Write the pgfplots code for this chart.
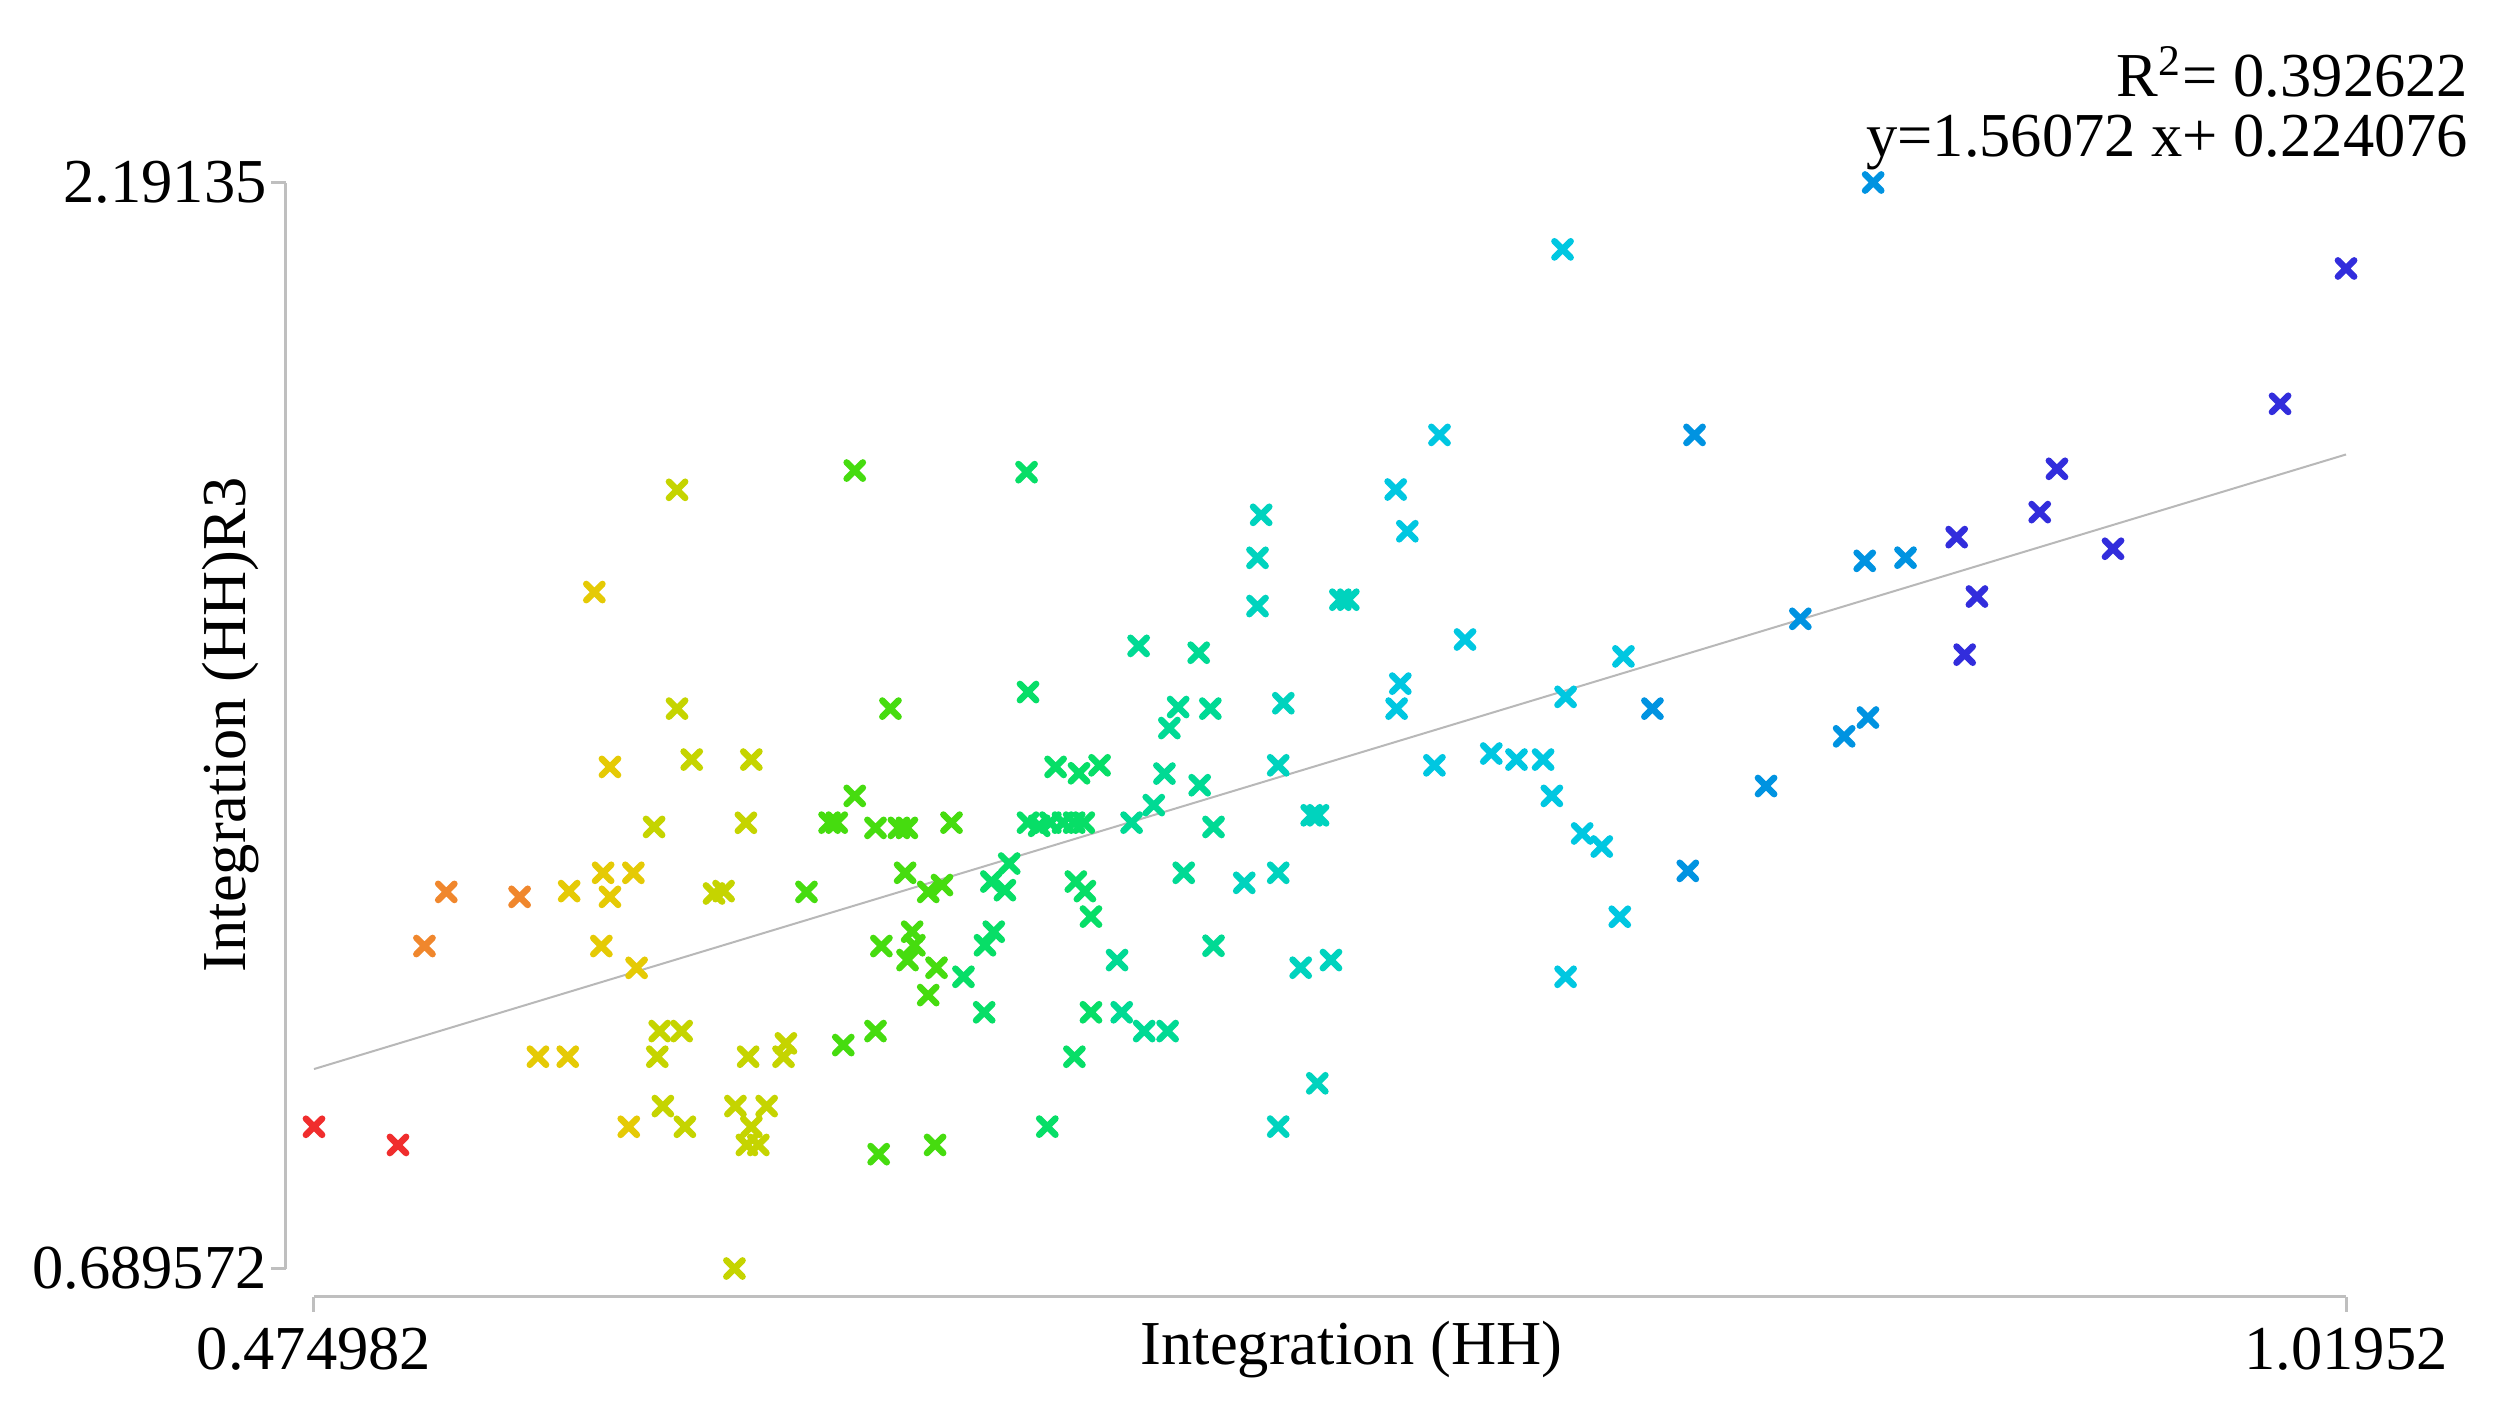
\documentclass[border=0pt]{standalone}
\usepackage{fontspec}
\setmainfont{Liberation Serif}
\usepackage{pgfplots}
\pgfplotsset{compat=1.18}
\usepackage{pgfplotstable}

% x, y, colour index (hue-like, 0 = red ... 240 = blue)
\pgfplotstableread{
x y h
0.474982 0.88556 0
0.49749 0.86046 0
0.50458 1.13549 30
0.51043 1.21036 30
0.53008 1.20353 30
0.53499 0.98245 57
0.54298 0.98245 57
0.54336 1.21146 57
0.55011 1.62500 57
0.55199 1.13549 57
0.55246 1.23678 57
0.55429 1.38322 57
0.55429 1.20353 57
0.55933 0.88556 57
0.56057 1.23678 57
0.56143 1.10532 57
0.56612 1.30020 72
0.56698 0.98245 72
0.56762 1.01790 72
0.56847 0.91419 72
0.57227 1.76636 72
0.57227 1.46381 72
0.57351 1.01790 72
0.57437 0.88556 72
0.57620 1.39335 72
0.58218 1.20816 72
0.58474 1.21146 72
0.58791 0.91419 72
0.58765 0.689572 72
0.59072 1.30593 72
0.59132 0.98245 72
0.59218 0.88556 72
0.59218 1.39335 72
0.59098 0.86046 72
0.59406 0.86046 72
0.59628 0.91419 72
0.60080 0.98245 72
0.60144 1.00095 72
0.60695 1.21036 112
0.61315 1.30615 112
0.61507 1.30615 112
0.61682 0.99853 112
0.61989 1.34314 112
0.61989 1.79301 112
0.62545 1.29888 112
0.62545 1.01790 112
0.62630 0.84769 112
0.62703 1.13549 112
0.62946 1.46381 112
0.63172 1.29888 112
0.63339 1.23678 112
0.63386 1.29888 112
0.63403 1.11611 112
0.63527 1.15531 112
0.63587 1.13659 112
0.63958 1.06767 112
0.63958 1.21036 112
0.64142 0.86046 112
0.64180 1.10554 112
0.64326 1.21983 112
0.64582 1.30615 112
0.64902 1.09299 145
0.65457 1.04389 145
0.65479 1.13659 145
0.65650 1.22467 145
0.65714 1.15531 145
0.66013 1.21278 145
0.66128 1.24955 145
0.66593 1.79081 145
0.66632 1.48671 145
0.66632 1.30615 145
0.66931 1.30174 145
0.67149 0.88578 145
0.67230 1.30615 145
0.67371 1.38322 145
0.67571 1.30615 145
0.67870 1.30615 145
0.67875 0.98245 145
0.67913 1.22467 145
0.67999 1.37441 145
0.68127 1.30615 145
0.68157 1.21146 145
0.68319 1.17623 145
0.68319 1.04389 145
0.68550 1.38542 145
0.69019 1.11611 158
0.69143 1.04389 158
0.69408 1.30615 158
0.69596 1.55057 158
0.69745 1.01790 158
0.70002 1.33037 158
0.70288 1.37397 158
0.70373 1.01790 158
0.70420 1.43694 158
0.70655 1.46601 158
0.70805 1.23678 158
0.71206 1.54110 158
0.71232 1.35789 158
0.71518 1.46381 158
0.71603 1.30020 158
0.71603 1.13593 158
0.72427 1.22291 170
0.72782 1.60562 170
0.72782 1.67234 170
0.72880 1.73179 170
0.73337 1.23678 170
0.73337 0.88578 170
0.73337 1.38542 170
0.73474 1.47130 170
0.73939 1.10554 170
0.74234 1.31628 170
0.74405 1.31628 170
0.74384 0.94568 170
0.74751 1.11611 170
0.75003 1.61443 170
0.75216 1.61443 170
0.76485 1.76680 183
0.76510 1.46381 183
0.76609 1.49838 183
0.76797 1.70911 183
0.77523 1.38542 183
0.77659 1.84233 183
0.78343 1.55938 183
0.79047 1.40171 183
0.79722 1.39335 183
0.80435 1.39335 183
0.80670 1.34314 183
0.80956 2.09887 183
0.81038 1.48010 183
0.81038 1.09299 183
0.81482 1.29117 183
0.82007 1.27312 183
0.82490 1.17601 183
0.82588 1.53603 183
0.83365 1.46381 207
0.84313 1.23943 207
0.84493 1.84233 207
0.86410 1.35679 207
0.87329 1.58800 207
0.88503 1.42549 207
0.89054 1.66815 207
0.89140 1.45148 207
0.89280 2.19135 207
0.90147 1.67256 207
0.91518 1.70096 240
0.91732 1.53846 240
0.92061 1.61883 240
0.93744 1.73554 240
0.94205 1.79543 240
0.95708 1.68489 240
1.00184 1.88527 240
1.01952 2.07244 240
}\pts

\begin{document}
\fontsize{12.5}{15}\selectfont
\begin{tikzpicture}
  \path[use as bounding box] (-62.8pt,-27.7pt) rectangle (437pt,253.7pt);
  \begin{axis}[
    at={(0pt,0pt)}, anchor=south west,
    width=406.4pt, height=217.2pt, scale only axis,
    xmin=0.474982, xmax=1.01952, ymin=0.689572, ymax=2.19135,
    axis x line*=bottom, axis y line*=left,
    axis x line shift=5.6pt, axis y line shift=5.6pt,
    axis line style={draw=black!25, line width=0.6pt, -},
    xtick={0.474982,1.01952}, xticklabels={0.474982,1.01952},
    ytick={0.689572,2.19135}, yticklabels={0.689572,2.19135},
    tick align=outside, major tick length=3pt,
    tick style={draw=black!25, line width=0.6pt},
    ticklabel style={font=\fontsize{12.5}{15}\selectfont},
    xticklabel style={yshift=1pt},
    yticklabel style={xshift=3.5pt},
    clip=false,
    colormap={hue}{rgb255=(240,45,45) rgb255=(240,135,45) rgb255=(228,210,0)
      rgb255=(150,215,0) rgb255=(40,222,20) rgb255=(0,222,120)
      rgb255=(0,205,225) rgb255=(0,140,225) rgb255=(50,45,220)},
    point meta min=0, point meta max=240,
  ]
    % fitted line y = 1.56072 x + 0.224076
    \addplot[black!28, line width=0.4pt] coordinates {(0.474982,0.965390) (1.01952,1.815261)};
    \addplot[scatter, only marks, mark=x, mark size=2.3pt, line width=1.3pt,
      line cap=round, point meta=explicit,
      scatter/use mapped color={draw=mapped color, fill=mapped color}]
      table[x=x, y=y, meta=h] {\pts};
  \end{axis}
  \node[anchor=base] at (207.5pt,-19.1pt) {Integration (HH)};
  \node[rotate=90] at (-16.6pt,108.7pt) {Integration (HH)R3};
  \node[anchor=base east, inner sep=0pt] at (431pt,234.3pt) {R\textsuperscript{2}= 0.392622};
  \node[anchor=base east, inner sep=0pt] at (431pt,222.3pt) {y=1.56072 x+ 0.224076};
\end{tikzpicture}
\end{document}
